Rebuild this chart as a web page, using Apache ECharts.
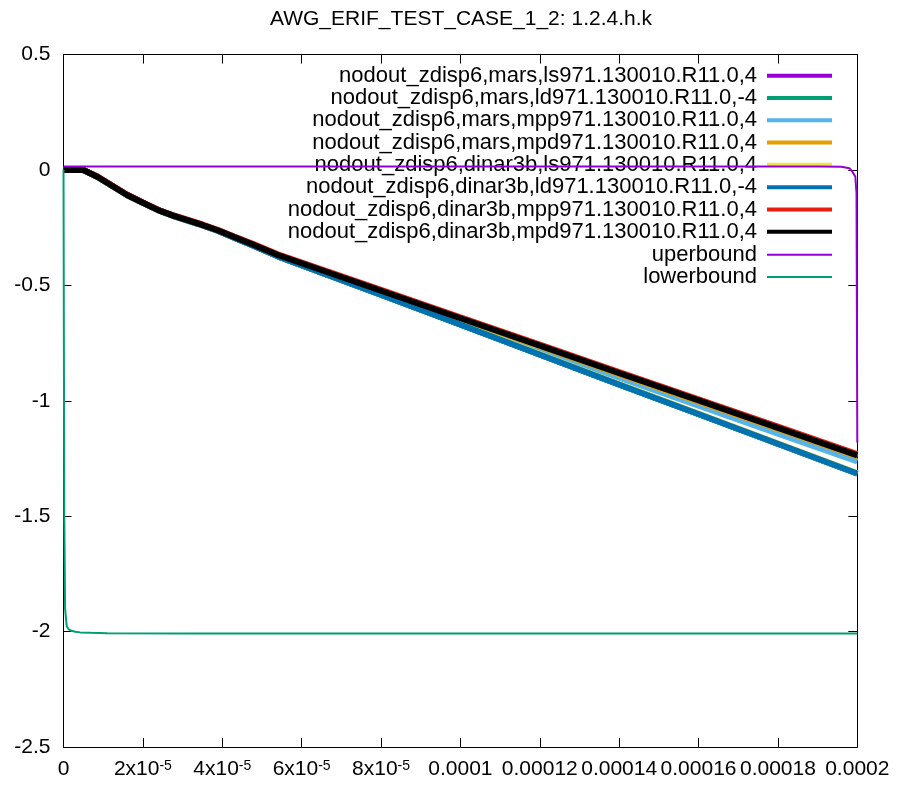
<!DOCTYPE html>
<html>
<head>
<meta charset="utf-8">
<script src="https://cdn.jsdelivr.net/npm/echarts@6/dist/echarts.min.js"></script>
<style>
html,body{margin:0;padding:0;background:#fff;}
#chart{width:901px;height:789px;}
</style>
</head>
<body>
<div id="chart"></div>
<script>
// ---- data ----
const titleText = 'AWG_ERIF_TEST_CASE_1_2: 1.2.4.h.k';
const xTickLabels = ['0', '2x10^-5', '4x10^-5', '6x10^-5', '8x10^-5', '0.0001', '0.00012', '0.00014', '0.00016', '0.00018', '0.0002'];
const yTickLabels = ['-2.5', '-2', '-1.5', '-1', '-0.5', '0', '0.5'];

const seriesNames = [
  'nodout_zdisp6,mars,ls971.130010.R11.0,4',
  'nodout_zdisp6,mars,ld971.130010.R11.0,-4',
  'nodout_zdisp6,mars,mpp971.130010.R11.0,4',
  'nodout_zdisp6,mars,mpd971.130010.R11.0,4',
  'nodout_zdisp6,dinar3b,ls971.130010.R11.0,4',
  'nodout_zdisp6,dinar3b,ld971.130010.R11.0,-4',
  'nodout_zdisp6,dinar3b,mpp971.130010.R11.0,4',
  'nodout_zdisp6,dinar3b,mpd971.130010.R11.0,4'
];
const boundNames = ['uperbound', 'lowerbound'];

const xMain = [0, 5e-6, 8.5e-6, 1.2e-5, 1.6e-5, 2e-5, 2.4e-5, 2.8e-5, 3.4e-5, 3.9e-5, 4.3e-5, 4.8e-5, 5.4e-5, 8e-5, 1e-4, 1.2e-4, 1.4e-4, 1.6e-4, 1.8e-4, 2e-4];

const marsLs     = [0, 0, -0.029, -0.066, -0.108, -0.142, -0.175, -0.201, -0.234, -0.264, -0.293, -0.329, -0.374, -0.540, -0.669, -0.799, -0.929, -1.057, -1.186, -1.315];
const marsLd     = [0, 0, -0.029, -0.066, -0.108, -0.142, -0.175, -0.201, -0.234, -0.264, -0.293, -0.329, -0.374, -0.541, -0.670, -0.800, -0.930, -1.058, -1.187, -1.316];
const marsMpp    = [0, 0, -0.029, -0.066, -0.108, -0.142, -0.175, -0.200, -0.232, -0.262, -0.290, -0.325, -0.368, -0.529, -0.654, -0.777, -0.900, -1.021, -1.142, -1.262];
const marsMpd    = [0, 0, -0.029, -0.066, -0.108, -0.142, -0.175, -0.201, -0.233, -0.263, -0.291, -0.326, -0.369, -0.525, -0.645, -0.764, -0.884, -1.003, -1.122, -1.241];
const dinarLs    = [0, 0, -0.029, -0.066, -0.108, -0.142, -0.175, -0.201, -0.234, -0.264, -0.292, -0.328, -0.373, -0.539, -0.667, -0.797, -0.927, -1.055, -1.184, -1.313];
const dinarLd    = [0, 0, -0.029, -0.066, -0.108, -0.142, -0.175, -0.201, -0.234, -0.264, -0.293, -0.329, -0.374, -0.540, -0.669, -0.799, -0.929, -1.057, -1.186, -1.315];
const dinarMpp   = [0, 0, -0.027, -0.064, -0.106, -0.140, -0.173, -0.198, -0.230, -0.260, -0.288, -0.322, -0.365, -0.519, -0.638, -0.756, -0.875, -0.993, -1.112, -1.231];
const dinarMpd   = [0, 0, -0.029, -0.066, -0.108, -0.142, -0.175, -0.200, -0.232, -0.262, -0.290, -0.325, -0.368, -0.523, -0.642, -0.761, -0.880, -0.998, -1.117, -1.236];

const xUpper = [0, 1.9e-4, 1.96e-4, 1.98e-4, 1.987e-4, 1.995e-4, 1.998e-4, 2e-4];
const upperB = [0.015, 0.015, 0.014, 0.008, -0.006, -0.028, -0.1, -1.18];

const xLower = [0, 2e-7, 4e-7, 8e-7, 1.3e-6, 2e-6, 3e-6, 4.2e-6, 7e-6, 1.1e-5, 3e-5, 1e-4, 2e-4];
const lowerB = [0, -1.5, -1.9, -1.975, -1.99, -1.996, -2.0, -2.003, -2.005, -2.007, -2.008, -2.008, -2.008];

const mainColors = ['#9400d3', '#009e73', '#56b4e9', '#e69f00', '#f0e442', '#0072b2', '#e51e10', '#000000'];
const boundColors = ['#9400d3', '#009e73'];

// ---- chart ----
const FONT = '"Liberation Sans", Arial, sans-serif';
const xStep = 0.00002;
const mainValues = [marsLs, marsLd, marsMpp, marsMpd, dinarLs, dinarLd, dinarMpp, dinarMpd];

function pair(xs, ys) { return xs.map((x, i) => [x, ys[i]]); }

const series = [];
mainValues.forEach((vals, i) => {
  series.push({
    name: seriesNames[i], type: 'line', data: pair(xMain, vals),
    showSymbol: false, symbol: 'none', color: mainColors[i],
    lineStyle: { width: 6, color: mainColors[i] }, animation: false, z: 2
  });
});
series.push({
  name: boundNames[0], type: 'line', data: pair(xUpper, upperB),
  showSymbol: false, symbol: 'none', color: boundColors[0],
  lineStyle: { width: 2, color: boundColors[0] }, animation: false, z: 6
});
series.push({
  name: boundNames[1], type: 'line', data: pair(xLower, lowerB),
  showSymbol: false, symbol: 'none', color: boundColors[1],
  lineStyle: { width: 2, color: boundColors[1] }, animation: false, z: 3
});

function xFmt(v) {
  const i = Math.round(v / xStep);
  const t = xTickLabels[i];
  if (t === undefined) return '';
  const p = t.split('^');
  return p.length > 1 ? '{b|' + p[0] + '}{s|' + p[1] + '}' : '{b|' + t + '}';
}
function yFmt(v) {
  const i = Math.round((v + 2.5) / 0.5);
  return yTickLabels[i] !== undefined ? yTickLabels[i] : '';
}

const axisLineStyle = { show: true, onZero: false, lineStyle: { color: '#000', width: 1 } };
const grid = { left: 63.5, right: 43.7, top: 54.6, bottom: 41.9, containLabel: false };

const option = {
  backgroundColor: '#fff',
  animation: false,
  title: {
    text: titleText, left: 456, top: 4, textAlign: 'center',
    textStyle: { fontFamily: FONT, fontSize: 21, fontWeight: 'normal', color: '#000' }
  },
  grid: grid,
  legend: [{
    data: seriesNames, orient: 'vertical', align: 'right', right: 69, top: 64.5,
    padding: 0, itemGap: 0, itemWidth: 65, itemHeight: 4, icon: 'rect', selectedMode: false,
    textStyle: { fontFamily: FONT, fontSize: 22, lineHeight: 22.3, color: '#000', padding: [0, 5, 0, 0] }
  }, {
    data: boundNames, orient: 'vertical', align: 'right', right: 69, top: 243.5,
    padding: 0, itemGap: 0, itemWidth: 65, itemHeight: 2, icon: 'rect', selectedMode: false,
    textStyle: { fontFamily: FONT, fontSize: 22, lineHeight: 22.3, color: '#000', padding: [0, 5, 0, 0] }
  }],
  xAxis: [{
    type: 'value', position: 'bottom', min: 0, max: 0.0002, interval: xStep,
    axisLine: axisLineStyle, splitLine: { show: false },
    axisTick: { show: true, inside: true, length: 9, lineStyle: { color: '#000' } },
    axisLabel: {
      show: true, margin: 12, formatter: xFmt, color: '#000', hideOverlap: false,
      rich: {
        b: { fontFamily: FONT, fontSize: 21, lineHeight: 21, padding: [5, 0, 0, 0], color: '#000', verticalAlign: 'bottom' },
        s: { fontFamily: FONT, fontSize: 14, lineHeight: 14, color: '#000', verticalAlign: 'top' }
      }
    }
  }, {
    type: 'value', position: 'top', min: 0, max: 0.0002, interval: xStep,
    axisLine: axisLineStyle, splitLine: { show: false },
    axisTick: { show: true, inside: true, length: 9, lineStyle: { color: '#000' } },
    axisLabel: { show: false }
  }],
  yAxis: [{
    type: 'value', position: 'left', min: -2.5, max: 0.5, interval: 0.5,
    axisLine: axisLineStyle, splitLine: { show: false },
    axisTick: { show: true, inside: true, length: 8, lineStyle: { color: '#000' } },
    axisLabel: { show: true, margin: 13, formatter: yFmt, fontFamily: FONT, fontSize: 21, color: '#000' }
  }, {
    type: 'value', position: 'right', min: -2.5, max: 0.5, interval: 0.5,
    axisLine: axisLineStyle, splitLine: { show: false },
    axisTick: { show: true, inside: true, length: 9, lineStyle: { color: '#000' } },
    axisLabel: { show: false }
  }],
  series: series
};

const chart = echarts.init(document.getElementById('chart'), null, { renderer: 'canvas' });
chart.setOption(option);
</script>
</body>
</html>
